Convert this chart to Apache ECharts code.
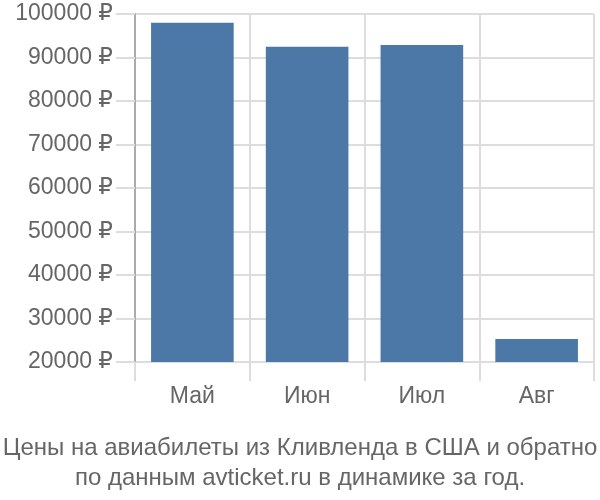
<!DOCTYPE html>
<html><head><meta charset="utf-8">
<script src="https://cdn.jsdelivr.net/npm/echarts@6/dist/echarts.min.js"></script>
<style>html,body{margin:0;padding:0;background:#fff}#c{width:600px;height:500px}</style>
</head><body><div id="c"></div>
<script>
const categories = ['Май', 'Июн', 'Июл', 'Авг'];
const prices = [98000, 92500, 92900, 25300];
const yTicks = [20000, 30000, 40000, 50000, 60000, 70000, 80000, 90000, 100000];
const titleLines = ['Цены на авиабилеты из Кливленда в США и обратно', 'по данным avticket.ru в динамике за год.'];

const font = 'Liberation Sans, Arial, DejaVu Sans, sans-serif';
const chart = echarts.init(document.getElementById('c'), null, {renderer: 'canvas'});
chart.setOption({
  animation: false,
  title: {
    text: titleLines.join('\n'),
    left: 'center', top: 428,
    textStyle: {fontFamily: font, fontSize: 24, fontWeight: 'normal', color: '#666', lineHeight: 30}
  },
  grid: {left: 135, right: 6, top: 14, bottom: 138, containLabel: false},
  xAxis: {
    type: 'category', data: categories, boundaryGap: true,
    axisLine: {show: false},
    axisTick: {show: true, length: 19, lineStyle: {color: '#ddd', width: 2}},
    splitLine: {show: true, lineStyle: {color: '#ddd', width: 2}},
    axisLabel: {fontFamily: font, fontSize: 23, color: '#666', margin: 23}
  },
  yAxis: {
    type: 'value', min: yTicks[0], max: yTicks[yTicks.length - 1], interval: 10000,
    axisLine: {show: true, lineStyle: {color: '#aaa', width: 2}},
    axisTick: {show: true, length: 19, lineStyle: {color: '#ddd', width: 2}},
    splitLine: {show: true, lineStyle: {color: '#ddd', width: 2}},
    axisLabel: {fontFamily: font, fontSize: 23, color: '#666', margin: 22,
      formatter: v => v + ' ₽'}
  },
  series: [{
    type: 'bar', data: prices, barCategoryGap: '28%',
    itemStyle: {color: '#4c78a8'}
  }]
});
</script></body></html>
